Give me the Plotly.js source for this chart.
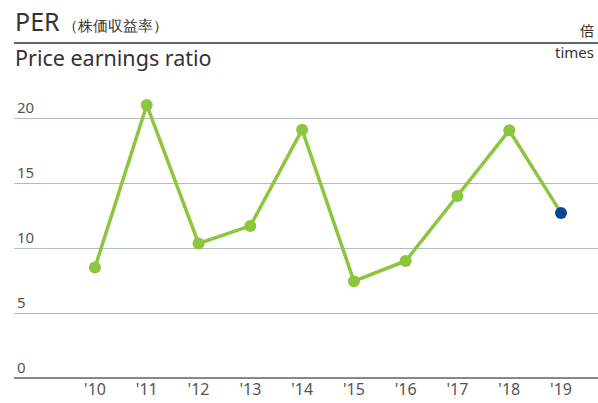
<!DOCTYPE html>
<html>
<head>
<meta charset="utf-8">
<script src="https://cdn.plot.ly/plotly-3.0.1.min.js"></script>
<style>html,body{margin:0;padding:0;background:#fff;}#chart{width:598px;height:403px;}</style>
</head>
<body>
<div id="chart"></div>
<script>
const years = ["'10","'11","'12","'13","'14","'15","'16","'17","'18","'19"];
const per = [8.5, 21.0, 10.35, 11.7, 19.1, 7.45, 9.0, 14.0, 19.05, 12.7];
const yTicks = [0, 5, 10, 15, 20];

const FONT = "Noto Sans, Open Sans, sans-serif";
const green = "#8cc63f";
const blue = "#0b4596";

// pixel helpers (plot area: x 14..598, y 92..378)
const L = 14, R = 0, T = 92, B = 25, W = 598, H = 403;
const pw = W - L - R, ph = H - T - B;
const px = x => (x - L) / pw;
const py = y => (H - B - y) / ph;

const markerColors = per.map((v, i) => i === per.length - 1 ? blue : green);

const traces = [
  {
    x: years, y: per, type: "scatter", mode: "lines",
    line: {color: green, width: 3.5}, hoverinfo: "skip"
  },
  {
    x: years, y: per, type: "scatter", mode: "markers",
    marker: {color: markerColors, size: 12}, hoverinfo: "skip"
  }
];

const layout = {
  width: W, height: H,
  margin: {l: L, r: R, t: T, b: B, pad: 0},
  paper_bgcolor: "#fff", plot_bgcolor: "#fff",
  showlegend: false,
  font: {family: FONT, color: "#555"},
  xaxis: {
    type: "category",
    range: [-1.564, 9.714],
    showgrid: false, zeroline: false, showline: false,
    ticks: "", tickfont: {size: 16, color: "#555", family: FONT},
    fixedrange: true
  },
  yaxis: {
    range: [0, 22],
    tickvals: yTicks, ticktext: yTicks.map(String),
    ticklabelposition: "inside top",
    tickfont: {size: 15, color: "#555", family: FONT},
    showgrid: true, gridcolor: "#aebcc6", gridwidth: 1,
    zeroline: true, zerolinecolor: "#888", zerolinewidth: 2,
    showline: false, ticks: "", fixedrange: true
  },
  shapes: [
    {type: "line", xref: "paper", yref: "paper", x0: 0, x1: 1, y0: py(43), y1: py(43),
     line: {color: "#333", width: 1.5}}
  ],
  annotations: [
    {xref: "paper", yref: "paper", x: px(13), y: py(34), xanchor: "left", yanchor: "bottom",
     text: "PER<span style=\"font-size:15px\"> （株価収益率）</span>", showarrow: false,
     font: {size: 25, color: "#333", family: FONT}, yshift: -6},
    {xref: "paper", yref: "paper", x: px(13), y: py(58), xanchor: "left", yanchor: "middle",
     text: "Price earnings ratio", showarrow: false,
     font: {size: 21.5, color: "#333", family: FONT}},
    {xref: "paper", yref: "paper", x: 1, y: py(30), xanchor: "right", yanchor: "middle",
     text: "倍", showarrow: false, xshift: -2,
     font: {size: 14, color: "#333", family: "Noto Sans CJK JP, sans-serif"}},
    {xref: "paper", yref: "paper", x: 1, y: py(52), xanchor: "right", yanchor: "middle",
     text: "times", showarrow: false, xshift: -2,
     font: {size: 15, color: "#333", family: FONT}}
  ]
};

Plotly.newPlot("chart", traces, layout, {staticPlot: true, displayModeBar: false});
</script>
</body>
</html>
